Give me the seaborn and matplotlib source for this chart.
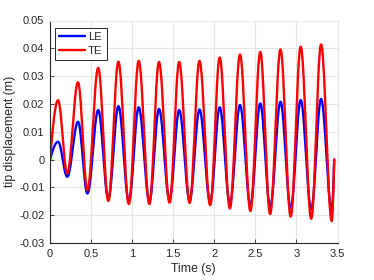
import numpy as np
import pandas as pd
import matplotlib
matplotlib.use("Agg")
import matplotlib.pyplot as plt
import seaborn as sns

# ---- data ----
peak_times = [0.098, 0.341, 0.587, 0.833, 1.080, 1.327, 1.573, 1.820, 2.066, 2.313, 2.560, 2.806, 3.052, 3.300]
trough_times = [0.210, 0.456, 0.710, 0.960, 1.210, 1.455, 1.700, 1.950, 2.190, 2.440, 2.680, 2.930, 3.180, 3.430]
te_peaks = [0.0213, 0.0278, 0.0330, 0.0352, 0.0355, 0.0351, 0.0351, 0.0355, 0.0367, 0.0378, 0.0387, 0.0396, 0.0406, 0.0414]
le_peaks = [0.0064, 0.0136, 0.0178, 0.0192, 0.0188, 0.0182, 0.0178, 0.0180, 0.0188, 0.0196, 0.0202, 0.0208, 0.0214, 0.0218]
te_troughs = [-0.0050, -0.0110, -0.0149, -0.0160, -0.0160, -0.0155, -0.0156, -0.0164, -0.0176, -0.0185, -0.0196, -0.0205, -0.0213, -0.0221]
le_troughs = [-0.0062, -0.0122, -0.0140, -0.0150, -0.0150, -0.0145, -0.0146, -0.0152, -0.0158, -0.0164, -0.0170, -0.0175, -0.0179, -0.0182]
t_start, t_end = 0.0, 3.46
series_names = ["LE", "TE"]
x_ticks = [0, 0.5, 1, 1.5, 2, 2.5, 3, 3.5]
x_tick_labels = ["0", "0.5", "1", "1.5", "2", "2.5", "3", "3.5"]
y_ticks = [-0.03, -0.02, -0.01, 0, 0.01, 0.02, 0.03, 0.04, 0.05]
y_tick_labels = ["-0.03", "-0.02", "-0.01", "0", "0.01", "0.02", "0.03", "0.04", "0.05"]


def smooth_curve(peaks, troughs):
    # knots: start at zero, alternate peaks/troughs, end at zero
    kt = [t_start]
    kv = [0.0]
    for pt, pv, tt, tv in zip(peak_times, peaks, trough_times, troughs):
        kt += [pt, tt]
        kv += [pv, tv]
    kt.append(t_end)
    kv.append(0.0)
    ts, vs = [], []
    n = len(kt) - 1
    for i in range(n):
        s = np.linspace(0, 1, 25, endpoint=(i == n - 1))
        t0, t1, v0, v1 = kt[i], kt[i + 1], kv[i], kv[i + 1]
        if i == 0:
            shape = np.sin(np.pi / 2 * s)
        elif i == n - 1:
            shape = 1 - np.cos(np.pi / 2 * s)
        else:
            shape = (1 - np.cos(np.pi * s)) / 2
        ts.append(t0 + (t1 - t0) * s)
        vs.append(v0 + (v1 - v0) * shape)
    return np.concatenate(ts), np.concatenate(vs)


frames = []
for name, pk, tr in [("LE", le_peaks, le_troughs), ("TE", te_peaks, te_troughs)]:
    t, v = smooth_curve(pk, tr)
    frames.append(pd.DataFrame({"Time": t, "disp": v, "series": name}))
df = pd.concat(frames, ignore_index=True)

sns.set_theme(style="white")
plt.rcParams["font.family"] = ["Liberation Sans", "DejaVu Sans"]

fig = plt.figure(figsize=(3.74, 2.80), dpi=100)
ax = fig.add_axes([50 / 374, 1 - 243 / 280, (337.5 - 50) / 374, (243 - 20.5) / 280])

sns.lineplot(data=df, x="Time", y="disp", hue="series", hue_order=series_names,
             palette={"LE": "#0000ff", "TE": "#ff0000"}, linewidth=1.7,
             estimator=None, sort=False, ax=ax)

ax.set_xlim(0, 3.5)
ax.set_ylim(-0.03, 0.05)
ax.set_xticks(x_ticks)
ax.set_xticklabels(x_tick_labels)
ax.set_yticks(y_ticks)
ax.set_yticklabels(y_tick_labels)

dark = "#262626"
ax.grid(True, color="#e6e6e6", linewidth=0.8)
ax.set_axisbelow(True)
for side in ["left", "bottom"]:
    ax.spines[side].set_color(dark)
    ax.spines[side].set_linewidth(0.8)
for side in ["top", "right"]:
    ax.spines[side].set_color("#e6e6e6")
    ax.spines[side].set_linewidth(0.8)

ax.tick_params(axis="both", which="both", direction="in", length=3, width=0.6,
               colors=dark, labelsize=8.0, pad=4, labelcolor=dark,
               left=True, bottom=True, top=False, right=False)
ax.set_xlabel("Time (s)", fontsize=8.8, color=dark, labelpad=3.5)
ax.set_ylabel("tip displacement (m)", fontsize=8.8, color=dark, labelpad=2)

leg = ax.legend(loc="upper left", bbox_to_anchor=(0.01, 0.975), fontsize=8.2,
                frameon=True, fancybox=False, handlelength=2.3, handletextpad=0.25,
                borderpad=0.35, labelspacing=0.3, borderaxespad=0.2)
leg.get_frame().set_edgecolor(dark)
leg.get_frame().set_linewidth(0.7)
leg.get_frame().set_alpha(1)
for line in leg.get_lines():
    line.set_linewidth(1.7)

fig.savefig("out.png", dpi=100)
